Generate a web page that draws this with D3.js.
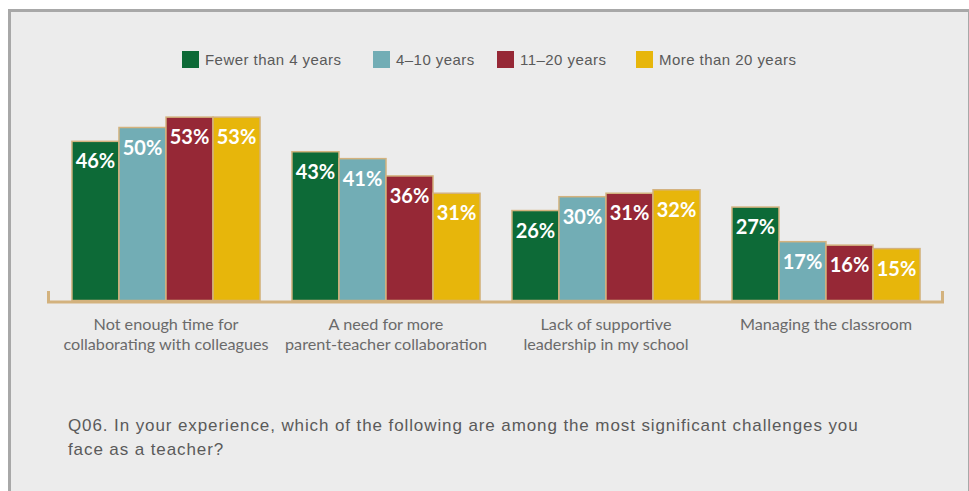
<!DOCTYPE html>
<html>
<head>
<meta charset="utf-8">
<script src="https://cdn.jsdelivr.net/npm/d3@7"></script>
<style>
  html, body { margin: 0; padding: 0; background: #ffffff; }
  svg { display: block; }
</style>
</head>
<body>
<svg id="chart" width="969" height="491"></svg>
<script>
// Survey categories (two-line labels)
const categories = [
  ["Not enough time for", "collaborating with colleagues"],
  ["A need for more", "parent-teacher collaboration"],
  ["Lack of supportive", "leadership in my school"],
  ["Managing the classroom"]
];
// Experience groups
const seriesNames = ["Fewer than 4 years", "4\u201310 years", "11\u201320 years", "More than 20 years"];
// Percent of teachers per category, one array per experience group
const fewerThan4 = [46, 43, 26, 27];
const years4to10 = [50, 41, 30, 17];
const years11to20 = [53, 36, 31, 16];
const moreThan20 = [53, 31, 32, 15];
const seriesValues = [fewerThan4, years4to10, years11to20, moreThan20];
const colors = ["#0d6a37", "#72adb5", "#962836", "#e7b60b"];
const question = [
  "Q06. In your experience, which of the following are among the most significant challenges you",
  "face as a teacher?"
];

const svg = d3.select("#chart");
const W = 969, H = 491;

// Panel
svg.append("rect").attr("x", 8).attr("y", 9).attr("width", W - 8).attr("height", H - 9).attr("fill", "#a8a8a8");
svg.append("rect").attr("x", 11).attr("y", 12).attr("width", W - 12).attr("height", H - 12).attr("fill", "#ececec");

const baseY = 300.5;
const x0 = d3.scaleBand().domain(d3.range(categories.length)).range([56, 936]).paddingInner(0.145).paddingOuter(0.0725);
const x1 = d3.scaleBand().domain(d3.range(seriesNames.length)).range([0, x0.bandwidth()]);
const y = d3.scaleLinear().domain([0, 60]).range([baseY, baseY - 60 * 3.46]);

const tan = "#d3b27e";

// Bars
const groups = svg.append("g").selectAll("g")
  .data(categories.map((c, i) => i))
  .join("g")
  .attr("transform", i => `translate(${x0(i)},0)`);

groups.selectAll("rect")
  .data(i => seriesValues.map((vals, s) => ({ s, v: vals[i] })))
  .join("rect")
  .attr("x", d => x1(d.s))
  .attr("y", d => y(d.v))
  .attr("width", x1.bandwidth())
  .attr("height", d => y(0) - y(d.v))
  .attr("fill", d => colors[d.s])
  .attr("stroke", tan)
  .attr("stroke-width", 1.5);

groups.selectAll("text")
  .data(i => seriesValues.map((vals, s) => ({ s, v: vals[i] })))
  .join("text")
  .attr("x", d => x1(d.s) + x1.bandwidth() / 2)
  .attr("y", d => y(d.v) + 27)
  .attr("text-anchor", "middle")
  .attr("font-family", "Lato, 'Open Sans', sans-serif")
  .attr("font-weight", 700)
  .attr("font-size", 20)
  .attr("fill", "#ffffff")
  .text(d => d.v + "%");

// Baseline with end ticks
svg.append("path")
  .attr("d", `M48.5,291 V${baseY + 1.5} H942.5 V291`)
  .attr("fill", "none")
  .attr("stroke", tan)
  .attr("stroke-width", 3);

// Category labels
const catLabels = svg.append("g").selectAll("text")
  .data(categories)
  .join("text")
  .attr("x", (d, i) => x0(i) + x0.bandwidth() / 2)
  .attr("y", 330)
  .attr("text-anchor", "middle")
  .attr("font-family", "Lato, 'Open Sans', sans-serif")
  .attr("font-size", 16.2)
  .attr("fill", "#6a6a6a");
catLabels.selectAll("tspan")
  .data(d => d)
  .join("tspan")
  .attr("x", function () { return d3.select(this.parentNode).attr("x"); })
  .attr("dy", (d, i) => i === 0 ? 0 : 19.5)
  .text(d => d);

// Legend
const legendX = [182, 373, 497, 636];
const legend = svg.append("g").selectAll("g")
  .data(seriesNames)
  .join("g")
  .attr("transform", (d, i) => `translate(${legendX[i]},51)`);
legend.append("rect").attr("width", 17).attr("height", 17).attr("fill", (d, i) => colors[i]);
legend.append("text")
  .attr("x", 23).attr("y", 14)
  .attr("font-family", "'Liberation Sans', Arial, sans-serif")
  .attr("font-size", 15)
  .attr("letter-spacing", 0.45)
  .attr("fill", "#5a5a5a")
  .text(d => d);

// Question text
svg.append("g").selectAll("text")
  .data(question)
  .join("text")
  .attr("x", 68)
  .attr("y", (d, i) => 431 + i * 24)
  .attr("font-family", "'Liberation Sans', Arial, sans-serif")
  .attr("font-size", 17)
  .attr("letter-spacing", 0.9)
  .attr("fill", "#5a5a5a")
  .text(d => d);
</script>
</body>
</html>
